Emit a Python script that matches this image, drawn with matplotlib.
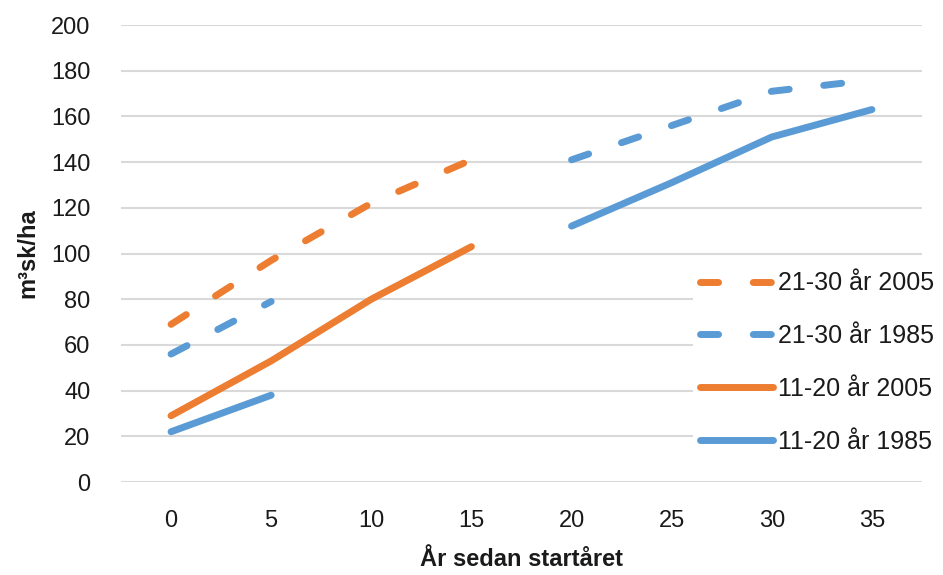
import matplotlib
matplotlib.use("Agg")
import matplotlib.pyplot as plt
import numpy as np

plt.rcParams["font.family"] = ["Liberation Sans", "DejaVu Sans"]

# data (nan = no value)
years = ["0", "5", "10", "15", "20", "25", "30", "35"]
s2130_2005 = [69, 97, 122, 141, np.nan, np.nan, np.nan, np.nan]
s2130_1985 = [56, 79, np.nan, np.nan, 141, 156, 171, 176]
s1120_2005 = [29, 53, 80, 103, np.nan, np.nan, np.nan, np.nan]
s1120_1985 = [22, 38, np.nan, np.nan, 112, 131, 151, 163]

ORANGE = "#ED7D31"
BLUE = "#5B9BD5"
GRID = "#D9D9D9"
TEXT = "#1a1a1a"

fig = plt.figure(figsize=(9.43, 5.75), dpi=100, facecolor="white")
ax = fig.add_axes([0.1283, 0.1617, 0.8494, 0.7948])

x = np.arange(len(years))
lw = 5
dash = (2.6, 5.0)
series = [
    (s2130_2005, ORANGE, "--", "21-30 år 2005"),
    (s2130_1985, BLUE, "--", "21-30 år 1985"),
    (s1120_2005, ORANGE, "-", "11-20 år 2005"),
    (s1120_1985, BLUE, "-", "11-20 år 1985"),
]
for vals, col, ls, lab in series:
    line, = ax.plot(x, vals, color=col, linewidth=lw, linestyle=ls, label=lab,
                    solid_capstyle="round", dash_capstyle="round", zorder=3)
    if ls == "--":
        line.set_dashes(dash)

ax.set_xlim(-0.5, len(years) - 0.5)
ax.set_ylim(0, 200)
ax.set_yticks(np.arange(0, 201, 20))
ax.set_xticks(x)
ax.set_xticklabels(years)
ax.grid(axis="y", color=GRID, linewidth=1.5, zorder=0)
ax.set_axisbelow(True)
for sp in ax.spines.values():
    sp.set_visible(False)
ax.tick_params(length=0, labelsize=17, colors=TEXT)
ax.tick_params(axis="y", pad=22)
ax.tick_params(axis="x", pad=20)

ax.set_ylabel("m³sk/ha", fontsize=17, fontweight="bold", color=TEXT, labelpad=8)
ax.set_xlabel("År sedan startåret", fontsize=17, fontweight="bold", color=TEXT, labelpad=12)

leg = ax.legend(loc="center left", bbox_to_anchor=(0.698, 0.2615), frameon=True,
                facecolor="white", edgecolor="none", framealpha=1, fontsize=18,
                handlelength=2.9, handletextpad=0.2, labelspacing=1.15, borderpad=0.3)
for t in leg.get_texts():
    t.set_color(TEXT)
leg.set_zorder(5)

fig.savefig("out.png", dpi=100, facecolor="white")
